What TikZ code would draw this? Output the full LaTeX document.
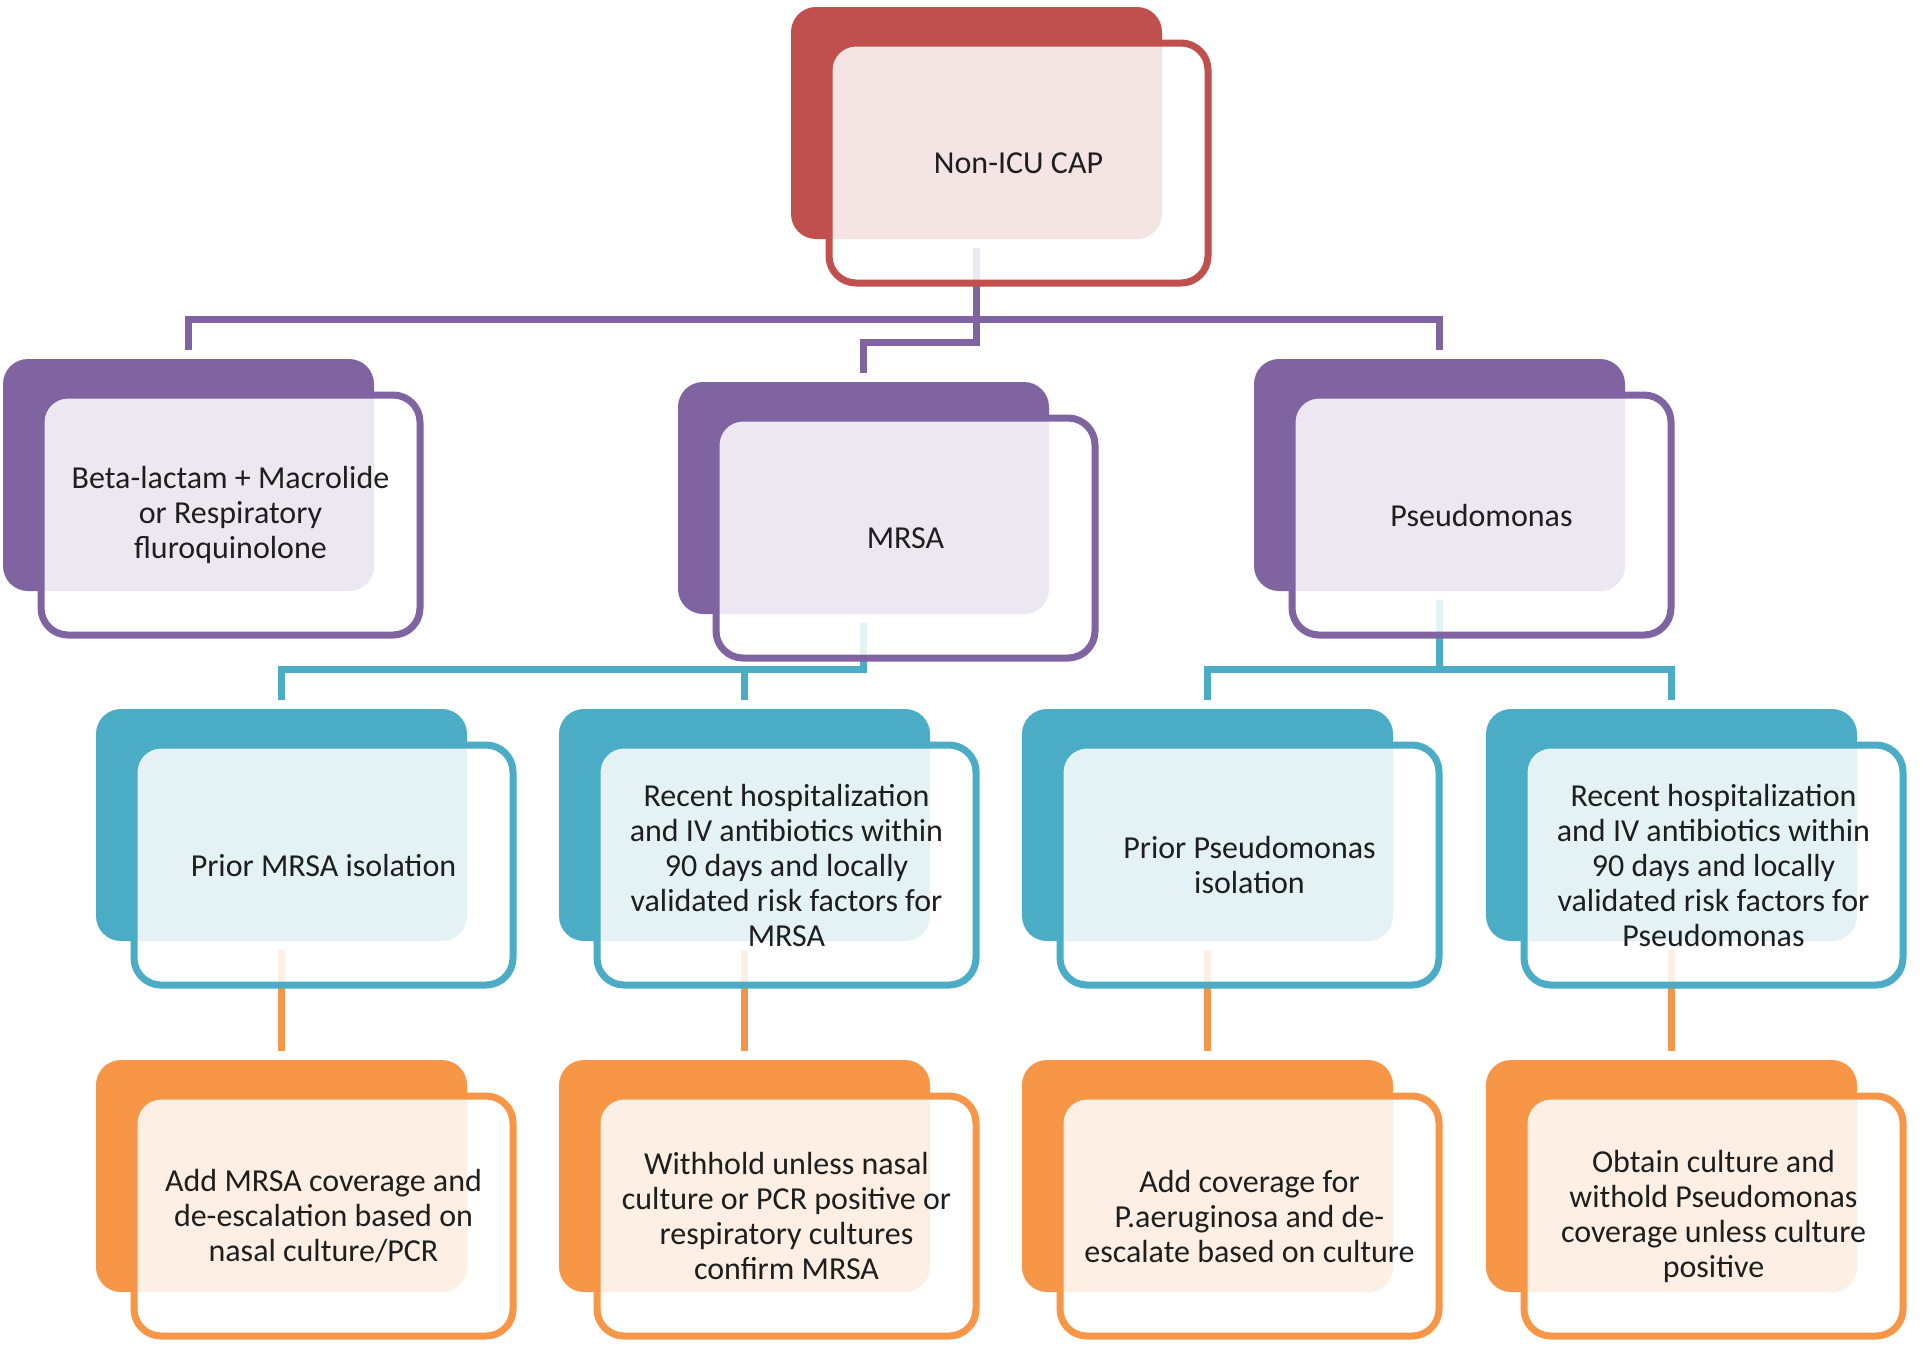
\documentclass[tikz,border=0pt]{standalone}
\usepackage{fontspec}
\setmainfont{Carlito}
\usetikzlibrary{calc}
\definecolor{cred}{HTML}{C0504D}
\definecolor{cpurple}{HTML}{8064A2}
\definecolor{caqua}{HTML}{4BACC6}
\definecolor{corange}{HTML}{F79646}
\definecolor{ctext}{HTML}{1E1E1E}
\pgfdeclarelayer{bg}
\pgfsetlayers{bg,main}
\tikzset{
  darkbox/.style={rounded corners=25pt, minimum width=371pt, minimum height=232pt,
    inner sep=0pt, outer sep=0pt, anchor=north west, fill=#1},
  outbox/.style={rounded corners=27pt, minimum width=379pt, minimum height=240pt,
    inner sep=0pt, outer sep=0pt, anchor=north west, line width=7pt, draw=#1,
    fill=white, fill opacity=0.85, draw opacity=1, text opacity=1, text=ctext,
    align=center, font=\fontsize{32}{35}\selectfont},
  conn/.style={line width=7pt, draw=#1, shorten <=9pt, shorten >=9pt}
}
\begin{document}
\begin{tikzpicture}[x=1pt,y=-1pt]
\useasboundingbox (0,0) rectangle (1926,1353);

% level 0
\node[darkbox=cred] (d0) at (791,7) {};
\node[outbox=cred] (o0) at (829,43) {Non-ICU CAP};

% level 1
\node[darkbox=cpurple] (d1a) at (3,359) {};
\node[outbox=cpurple] (o1a) at (41,395) {Beta-lactam + Macrolide\\or Respiratory\\fluroquinolone};
\node[darkbox=cpurple] (d1b) at (678,382) {};
\node[outbox=cpurple] (o1b) at (716,418) {MRSA};
\node[darkbox=cpurple] (d1c) at (1254,359) {};
\node[outbox=cpurple] (o1c) at (1292,395) {Pseudomonas};

% level 2
\node[darkbox=caqua] (d2a) at (96,709) {};
\node[outbox=caqua] (o2a) at (134,745) {Prior MRSA isolation};
\node[darkbox=caqua] (d2b) at (559,709) {};
\node[outbox=caqua] (o2b) at (597,745) {Recent hospitalization\\and IV antibiotics within\\90 days and locally\\validated risk factors for\\MRSA};
\node[darkbox=caqua] (d2c) at (1022,709) {};
\node[outbox=caqua] (o2c) at (1060,745) {Prior Pseudomonas\\isolation};
\node[darkbox=caqua] (d2d) at (1486,709) {};
\node[outbox=caqua] (o2d) at (1524,745) {Recent hospitalization\\and IV antibiotics within\\90 days and locally\\validated risk factors for\\Pseudomonas};

% level 3
\node[darkbox=corange] (d3a) at (96,1060) {};
\node[outbox=corange] (o3a) at (134,1096) {Add MRSA coverage and\\de-escalation based on\\nasal culture/PCR};
\node[darkbox=corange] (d3b) at (559,1060) {};
\node[outbox=corange] (o3b) at (597,1096) {Withhold unless nasal\\culture or PCR positive or\\respiratory cultures\\confirm MRSA};
\node[darkbox=corange] (d3c) at (1022,1060) {};
\node[outbox=corange] (o3c) at (1060,1096) {Add coverage for\\P.aeruginosa and de-\\escalate based on culture};
\node[darkbox=corange] (d3d) at (1486,1060) {};
\node[outbox=corange] (o3d) at (1524,1096) {Obtain culture and\\withold Pseudomonas\\coverage unless culture\\positive};

\begin{pgfonlayer}{bg}
\fill[white] (0,0) rectangle (1926,1353);
\draw[conn=cpurple] (d0.south) |- ($(d1a.north)+(0,-40)$) -- (d1a.north);
\draw[conn=cpurple] (d0.south) |- ($(d1b.north)+(0,-40)$) -- (d1b.north);
\draw[conn=cpurple] (d0.south) |- ($(d1c.north)+(0,-40)$) -- (d1c.north);
\draw[conn=caqua] (d1b.south) |- ($(d2a.north)+(0,-40)$) -- (d2a.north);
\draw[conn=caqua] (d1b.south) |- ($(d2b.north)+(0,-40)$) -- (d2b.north);
\draw[conn=caqua] (d1c.south) |- ($(d2c.north)+(0,-40)$) -- (d2c.north);
\draw[conn=caqua] (d1c.south) |- ($(d2d.north)+(0,-40)$) -- (d2d.north);
\draw[conn=corange] (d2a.south) -- (d3a.north);
\draw[conn=corange] (d2b.south) -- (d3b.north);
\draw[conn=corange] (d2c.south) -- (d3c.north);
\draw[conn=corange] (d2d.south) -- (d3d.north);
\end{pgfonlayer}
\end{tikzpicture}
\end{document}
